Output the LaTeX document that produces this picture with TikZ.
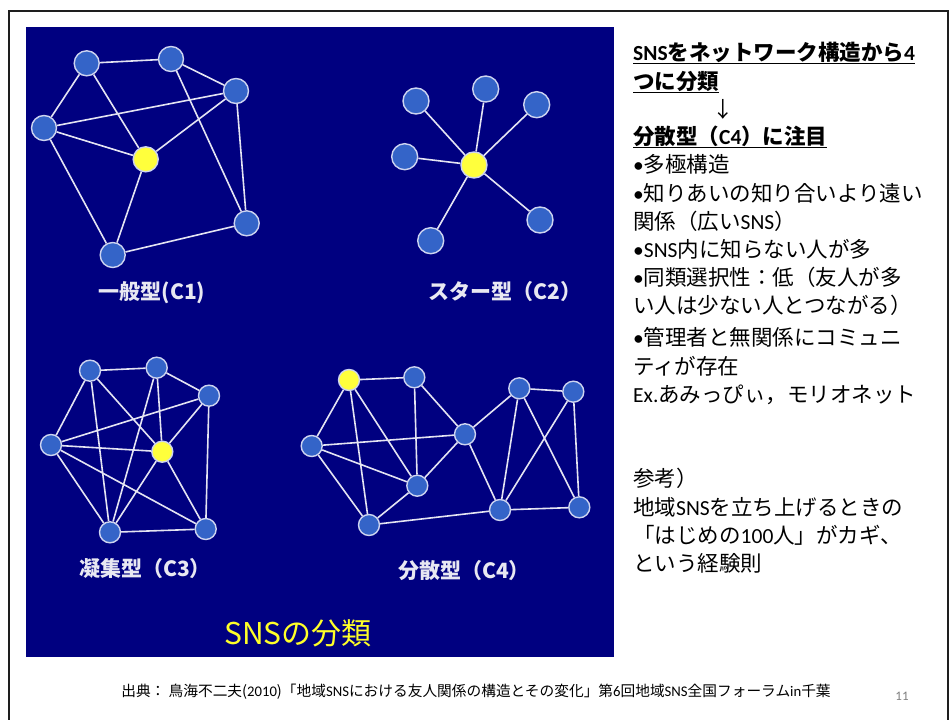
\documentclass[tikz,border=0pt]{standalone}
\usepackage{fontspec}
\setmainfont{Noto Sans CJK JP}
\newfontfamily\cl{Carlito}
\definecolor{navy}{RGB}{0,0,128}
\definecolor{nodeblue}{RGB}{52,100,200}
\definecolor{nodeedge}{RGB}{205,212,240}
\definecolor{edgecol}{RGB}{228,228,242}
\definecolor{hubyellow}{RGB}{255,255,60}
\definecolor{labelcol}{RGB}{232,232,242}
\definecolor{titleyellow}{RGB}{255,255,40}
\definecolor{framecol}{RGB}{30,30,30}
\begin{document}
\begin{tikzpicture}[x=1pt,y=-1pt,
  nd/.style={circle,draw=nodeedge,line width=1.4pt,fill=nodeblue,minimum size=#1,inner sep=0pt},
  hub/.style={nd=#1,fill=hubyellow},
  ed/.style={draw=edgecol,line width=1.6pt},
  glabel/.style={text=labelcol,font=\fontsize{21}{24}\selectfont\bfseries,inner sep=0pt},
  rt/.style={anchor=base west,inner sep=0pt,font=\fontsize{21.5}{24}\selectfont},
  ft/.style={inner sep=0pt,font=\fontsize{14.7}{16}\selectfont}]
\useasboundingbox (0,0) rectangle (951,720);
\fill[white] (0,0) rectangle (951,720);
\draw[framecol,line width=2pt] (8.5,720) -- (8.5,10.5) -- (947.5,10.5) -- (947.5,720);
% blue panel
\fill[navy] (26,27) rectangle (614,657);

% ---------- C1 ----------
\node[nd=25pt] (a1) at (86.7,63.3) {};
\node[nd=25pt] (b1) at (171,59) {};
\node[nd=25pt] (c1) at (236,91) {};
\node[nd=25pt] (d1) at (44,128) {};
\node[hub=25pt] (y1) at (145.7,159.3) {};
\node[nd=25pt] (e1) at (246.7,223.3) {};
\node[nd=25pt] (f1) at (112.7,255) {};
\draw[ed] (a1)--(b1) (b1)--(c1) (a1)--(d1) (a1)--(y1) (d1)--(c1) (d1)--(y1)
  (y1)--(c1) (d1)--(f1) (y1)--(f1) (f1)--(e1) (e1)--(c1) (b1)--(e1);
\node[glabel] (l1) at (152,293) {一般型(C1)};

% ---------- C2 ----------
\node[hub=26pt] (y2) at (474,165) {};
\node[nd=26pt] (a2) at (416,101) {};
\node[nd=26pt] (b2) at (485.7,89) {};
\node[nd=26pt] (c2) at (536.7,104.7) {};
\node[nd=26pt] (d2) at (404.7,156.7) {};
\node[nd=26pt] (e2) at (540,220) {};
\node[nd=26pt] (f2) at (430.7,240.7) {};
\draw[ed] (y2)--(a2) (y2)--(b2) (y2)--(c2) (y2)--(d2) (y2)--(e2) (y2)--(f2);
\node[glabel] (l2) at (505,292) {スター型（C2）};

% ---------- C3 ----------
\node[nd=21pt] (a3) at (90,370.7) {};
\node[nd=21pt] (b3) at (156.7,367.7) {};
\node[nd=21pt] (c3) at (209,395.7) {};
\node[nd=21pt] (d3) at (51,445) {};
\node[hub=21pt] (y3) at (162.3,451.7) {};
\node[nd=21pt] (e3) at (110,532.3) {};
\node[nd=21pt] (f3) at (205.7,529) {};
\draw[ed] (a3)--(b3) (b3)--(c3) (a3)--(d3) (d3)--(e3) (e3)--(f3) (f3)--(c3)
  (a3)--(e3) (a3)--(y3) (b3)--(e3) (b3)--(y3) (d3)--(c3) (d3)--(y3) (d3)--(f3)
  (c3)--(y3) (y3)--(f3) (e3)--(y3);
\node[glabel] (l3) at (145,569) {凝集型（C3）};

% ---------- C4 ----------
\node[hub=21pt] (y4) at (349,380) {};
\node[nd=21pt] (a4) at (414.3,377.3) {};
\node[nd=21pt] (b4) at (311.7,446) {};
\node[nd=21pt] (c4) at (465,434.3) {};
\node[nd=21pt] (d4) at (417.3,485.7) {};
\node[nd=21pt] (e4) at (369,525) {};
\node[nd=21pt] (f4) at (519.3,388.3) {};
\node[nd=21pt] (g4) at (573.3,391.7) {};
\node[nd=21pt] (h4) at (500,510) {};
\node[nd=21pt] (i4) at (579.3,507.3) {};
\draw[ed] (y4)--(a4) (y4)--(b4) (y4)--(e4) (y4)--(d4) (a4)--(d4) (a4)--(c4)
  (b4)--(c4) (b4)--(d4) (b4)--(e4) (e4)--(d4) (d4)--(c4) (e4)--(h4)
  (c4)--(f4) (c4)--(h4) (f4)--(g4) (f4)--(h4) (f4)--(i4) (g4)--(h4) (g4)--(i4) (h4)--(i4);
\node[glabel] (l4) at (464,571) {分散型（C4）};

\node[inner sep=0pt,text=titleyellow,font=\fontsize{30}{34}\selectfont] (title) at (298,633) {SNSの分類};

% ---------- right text ----------
\node[rt] (t1) at (633,60) {\underline{\bfseries{\cl SNS}をネットワーク構造から{\cl 4}}};
\node[rt] (t2) at (633,89) {\underline{\bfseries つに分類}};
\node[rt,anchor=base] (t3) at (723,117) {↓};
\node[rt] (t4) at (633,144) {\underline{\bfseries 分散型（{\cl C4}）に注目}};
\node[rt] (t5) at (633,172) {{\cl •}多極構造};
\node[rt] (t6) at (633,201) {{\cl •}知りあいの知り合いより遠い};
\node[rt] (t7) at (633,229) {関係（広い{\cl SNS}）};
\node[rt] (t8) at (633,257) {{\cl •SNS}内に知らない人が多};
\node[rt] (t9) at (633,285) {{\cl •}同類選択性：低（友人が多};
\node[rt] (t10) at (633,313) {い人は少ない人とつながる）};
\node[rt] (t11) at (633,345) {{\cl •}管理者と無関係にコミュニ};
\node[rt] (t12) at (633,374) {ティが存在};
\node[rt] (t13) at (633,402) {{\cl Ex.}あみっぴぃ，モリオネット};
\node[rt] (t14) at (633,486) {参考）};
\node[rt] (t15) at (633,515) {地域{\cl SNS}を立ち上げるときの};
\node[rt] (t16) at (633,543) {「はじめの{\cl 100}人」がカギ、};
\node[rt] (t17) at (633,571) {という経験則};

% ---------- footer ----------
\node[ft] (src) at (476,692) {出典：\ 鳥海不二夫({\cl 2010})「地域{\cl SNS}における友人関係の構造とその変化」第{\cl 6}回地域{\cl SNS}全国フォーラム{\cl in}千葉};
\node[ft,text=gray,font=\fontsize{13}{15}\selectfont\cl] (pg) at (902,696) {11};
\end{tikzpicture}
\end{document}
